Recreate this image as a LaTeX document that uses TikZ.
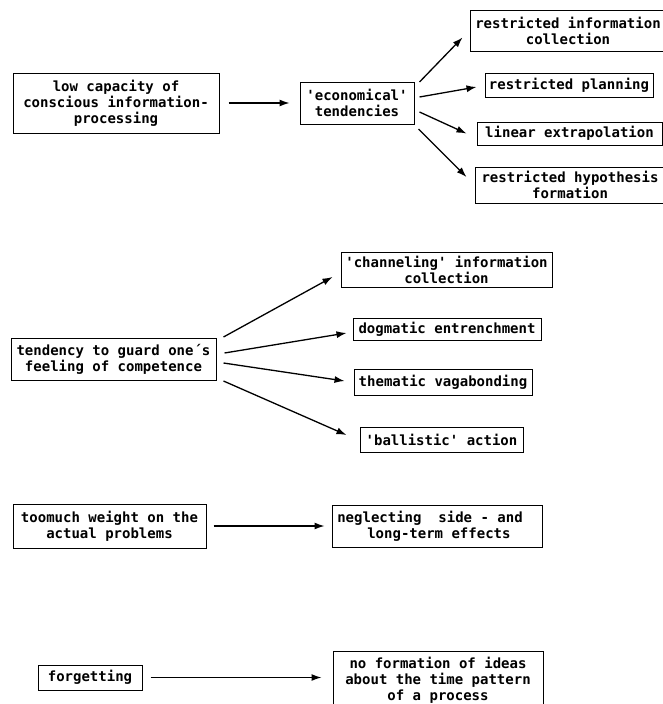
\documentclass[tikz,border=0pt]{standalone}
\usepackage{fontspec}
\setmonofont{DejaVu Sans Mono}
\usetikzlibrary{arrows.meta, calc}

\begin{document}
\begin{tikzpicture}[x=1pt, y=-1pt,
        box/.style={draw, line width=1pt, inner sep=0pt, align=center,
            font=\ttfamily\bfseries\fontsize{14}{16}\selectfont},
        arr/.style={-{Latex[length=10pt, width=7pt]}, line width=1.3pt}]
            \useasboundingbox (0, 0) rectangle (663, 704);

            %nodes
            \node[box, minimum width=206, minimum height=60] (lowcap) at (116, 103) {low capacity of\\conscious information-\\processing};
            \node[box, minimum width=114, minimum height=42] (econ) at (357, 103) {'economical'\\tendencies};
            \node[box, minimum width=196, minimum height=41] (rinfo) at (568, 30.5) {restricted information\\collection};
            \node[box, minimum width=168, minimum height=24] (rplan) at (569, 85) {restricted planning};
            \node[box, minimum width=185, minimum height=23] (linext) at (569.5, 133.5) {linear extrapolation};
            \node[box, minimum width=190, minimum height=36] (rhyp) at (570, 185) {restricted hypothesis\\formation};

            \node[box, minimum width=205, minimum height=42] (guard) at (113.5, 359) {tendency to guard one´s\\feeling of competence};
            \node[box, minimum width=211, minimum height=35] (chan) at (446.5, 269.5) {'channeling' information\\collection};
            \node[box, minimum width=188, minimum height=22] (dogm) at (447, 329) {dogmatic entrenchment};
            \node[box, minimum width=178, minimum height=26] (them) at (443, 382) {thematic vagabonding};
            \node[box, minimum width=163, minimum height=25] (ball) at (441.5, 439.5) {'ballistic' action};

            \node[box, minimum width=193, minimum height=44] (weight) at (109.5, 526) {toomuch weight on the\\actual problems};
            \node[box, minimum width=210, minimum height=42, align=left] (negl) at (437, 526) {neglecting\ \ side - and\hspace*{14pt}\\\hspace*{30pt}long-term effects};

            \node[box, minimum width=104, minimum height=25] (forget) at (90, 677.5) {forgetting};
            \node[box, minimum width=210, minimum height=58] (nofor) at (438, 680) {no formation of ideas\\about the time pattern\\of a process};

            %edges
            \draw[arr, shorten <=9pt, shorten >=10pt] (lowcap) -- (econ);
            \draw[arr] ($(econ.east)+(5, -21)$) -- ($(rinfo.south west)+(-7, -14)$);
            \draw[arr] ($(econ.east)+(5, -6)$) -- ($(rplan.west)+(-8, 2)$);
            \draw[arr] ($(econ.east)+(5, 9)$) -- ($(linext.west)+(-10, 0)$);
            \draw[arr] ($(econ.east)+(4, 26)$) -- ($(rhyp.west)+(-8, -8)$);

            \draw[arr] ($(guard.east)+(7, -22)$) -- ($(chan.west)+(-8, 7.5)$);
            \draw[arr] ($(guard.east)+(8, -6)$) -- ($(dogm.west)+(-6, 4)$);
            \draw[arr] ($(guard.east)+(7, 4)$) -- ($(them.west)+(-9, -1)$);
            \draw[arr] ($(guard.east)+(7, 22)$) -- ($(ball.west)+(-13, -4.5)$);

            \draw[arr, shorten <=7pt, shorten >=7pt] (weight) -- (negl);
            \draw[arr, shorten <=8pt, shorten >=11pt] (forget.east) -- (forget.east -| nofor.west);
        \end{tikzpicture}
\end{document}
